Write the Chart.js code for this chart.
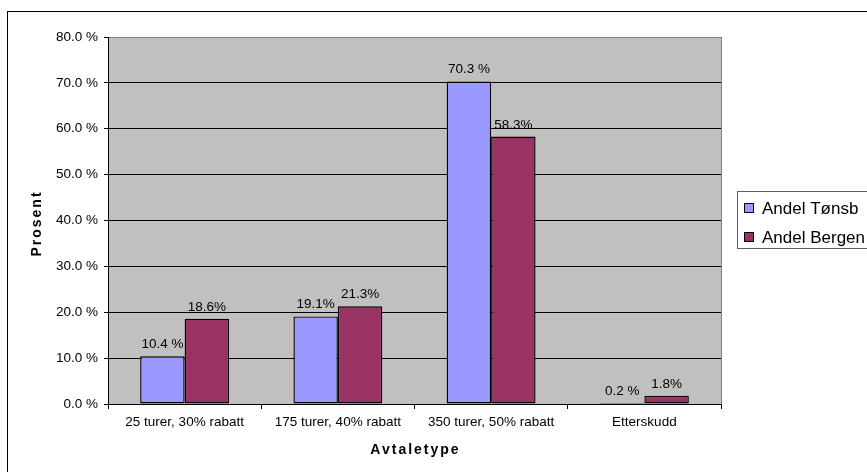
<!DOCTYPE html>
<html>
<head>
<meta charset="utf-8">
<script src="https://cdn.jsdelivr.net/npm/chart.js@4/dist/chart.umd.min.js"></script>
<style>
  html, body { margin: 0; padding: 0; background: #fff; }
  #wrap { width: 867px; height: 472px; position: relative; }
</style>
</head>
<body>
<div id="wrap"><canvas id="c"></canvas></div>
<script>
// Agreement types and share of trips per city (percent)
const categories = ['25 turer, 30% rabatt', '175 turer, 40% rabatt', '350 turer, 50% rabatt', 'Etterskudd'];
const seriesNames = ['Andel Tønsb', 'Andel Bergen'];
const tonsbValues = [10.4, 19.1, 70.3, 0.2];
const bergenValues = [18.6, 21.3, 58.3, 1.8];
// Separator between number and percent sign in each value label
const tonsbLabelSep = [' ', '', ' ', ' '];
const bergenLabelSep = ['', '', '', ''];
const yTicks = [0, 10, 20, 30, 40, 50, 60, 70, 80];

const FONT = '"Liberation Sans", Arial, sans-serif';

const frame = {
  id: 'frame',
  beforeDraw(chart) {
    const { ctx, chartArea: a } = chart;
    ctx.save();
    ctx.fillStyle = '#C0C0C0';
    ctx.fillRect(a.left, a.top, a.right - a.left, a.bottom - a.top);
    ctx.restore();
  },
  afterDraw(chart) {
    const { ctx, chartArea: a } = chart;
    ctx.save();
    // plot border, right side
    ctx.strokeStyle = '#808080';
    ctx.lineWidth = 1;
    ctx.beginPath();
    ctx.moveTo(Math.round(a.right) + 0.5, a.top);
    ctx.lineTo(Math.round(a.right) + 0.5, a.bottom);
    ctx.stroke();

    // outer chart frame (continues past the canvas edges)
    ctx.strokeStyle = '#000';
    ctx.strokeRect(7.5, 11.5, 1200, 1200);

    // axis titles
    ctx.fillStyle = '#000';
    ctx.font = 'bold 14px ' + FONT;
    ctx.letterSpacing = '2px';
    ctx.textAlign = 'center';
    ctx.textBaseline = 'middle';
    ctx.fillText('Avtaletype', (a.left + a.right) / 2 + 1, 450);
    ctx.save();
    ctx.translate(37, (a.top + a.bottom) / 2 + 4);
    ctx.rotate(-Math.PI / 2);
    ctx.fillText('Prosent', 1, 0);
    ctx.restore();
    ctx.letterSpacing = '0px';

    // legend
    const lx = 737.5, ly = 191.5;
    ctx.strokeStyle = '#606060';
    ctx.strokeRect(lx, ly, 300, 57);
    ctx.font = '17px ' + FONT;
    ctx.textAlign = 'left';
    ctx.textBaseline = 'middle';
    chart.data.datasets.forEach((ds, i) => {
      const cy = 208 + i * 29;
      ctx.fillStyle = ds.backgroundColor;
      ctx.fillRect(744, cy - 5, 9, 9);
      ctx.strokeStyle = '#000';
      ctx.strokeRect(744.5, cy - 4.5, 9, 9);
      ctx.fillStyle = '#000';
      ctx.fillText(ds.label, 762, cy + 1);
    });
    ctx.restore();
  },
  afterDatasetsDraw(chart) {
    const { ctx } = chart;
    ctx.save();
    ctx.fillStyle = '#000';
    ctx.font = '13.5px ' + FONT;
    ctx.textAlign = 'center';
    ctx.textBaseline = 'alphabetic';
    chart.data.datasets.forEach((ds, i) => {
      const meta = chart.getDatasetMeta(i);
      meta.data.forEach((bar, j) => {
        const v = ds.data[j];
        const text = v.toFixed(1) + ds.labelSep[j] + '%';
        ctx.fillText(text, bar.x, bar.y - 8);
      });
    });
    ctx.restore();
  }
};

new Chart(document.getElementById('c'), {
  type: 'bar',
  data: {
    labels: categories,
    datasets: [
      { label: seriesNames[0], data: tonsbValues, labelSep: tonsbLabelSep,
        backgroundColor: '#9999FF', borderColor: '#000', borderWidth: 1.4, borderSkipped: false },
      { label: seriesNames[1], data: bergenValues, labelSep: bergenLabelSep,
        backgroundColor: '#993366', borderColor: '#000', borderWidth: 1.4, borderSkipped: false }
    ]
  },
  options: {
    responsive: true,
    maintainAspectRatio: false,
    animation: false,
    devicePixelRatio: 1,
    layout: { padding: { left: 20, right: 146, top: 37, bottom: 8 } },
    datasets: { bar: { categoryPercentage: 0.58, barPercentage: 1.0 } },
    plugins: { legend: { display: false }, tooltip: { enabled: false } },
    scales: {
      x: {
        offset: true,
        grid: { offset: true, drawOnChartArea: false, drawTicks: true, tickLength: 5, color: '#000' },
        border: { display: true, color: '#000', width: 1 },
        ticks: { color: '#000', font: { family: FONT, size: 13.5 }, padding: 5, maxRotation: 0, autoSkip: false },
        afterFit(s) { s.height = 60; }
      },
      y: {
        min: 0, max: 80,
        afterBuildTicks(s) { s.ticks = yTicks.map(v => ({ value: v })); },
        grid: {
          color: ctx => (ctx.tick && ctx.tick.value === 80 ? '#808080' : '#000'),
          tickColor: '#000',
          tickLength: 4,
          drawTicks: true
        },
        border: { display: true, color: '#000', width: 1 },
        ticks: {
          color: '#000', font: { family: FONT, size: 13.5 }, padding: 6,
          callback: v => v.toFixed(1) + ' %'
        },
        afterFit(s) { s.width = 88; }
      }
    }
  },
  plugins: [frame]
});
</script>
</body>
</html>
